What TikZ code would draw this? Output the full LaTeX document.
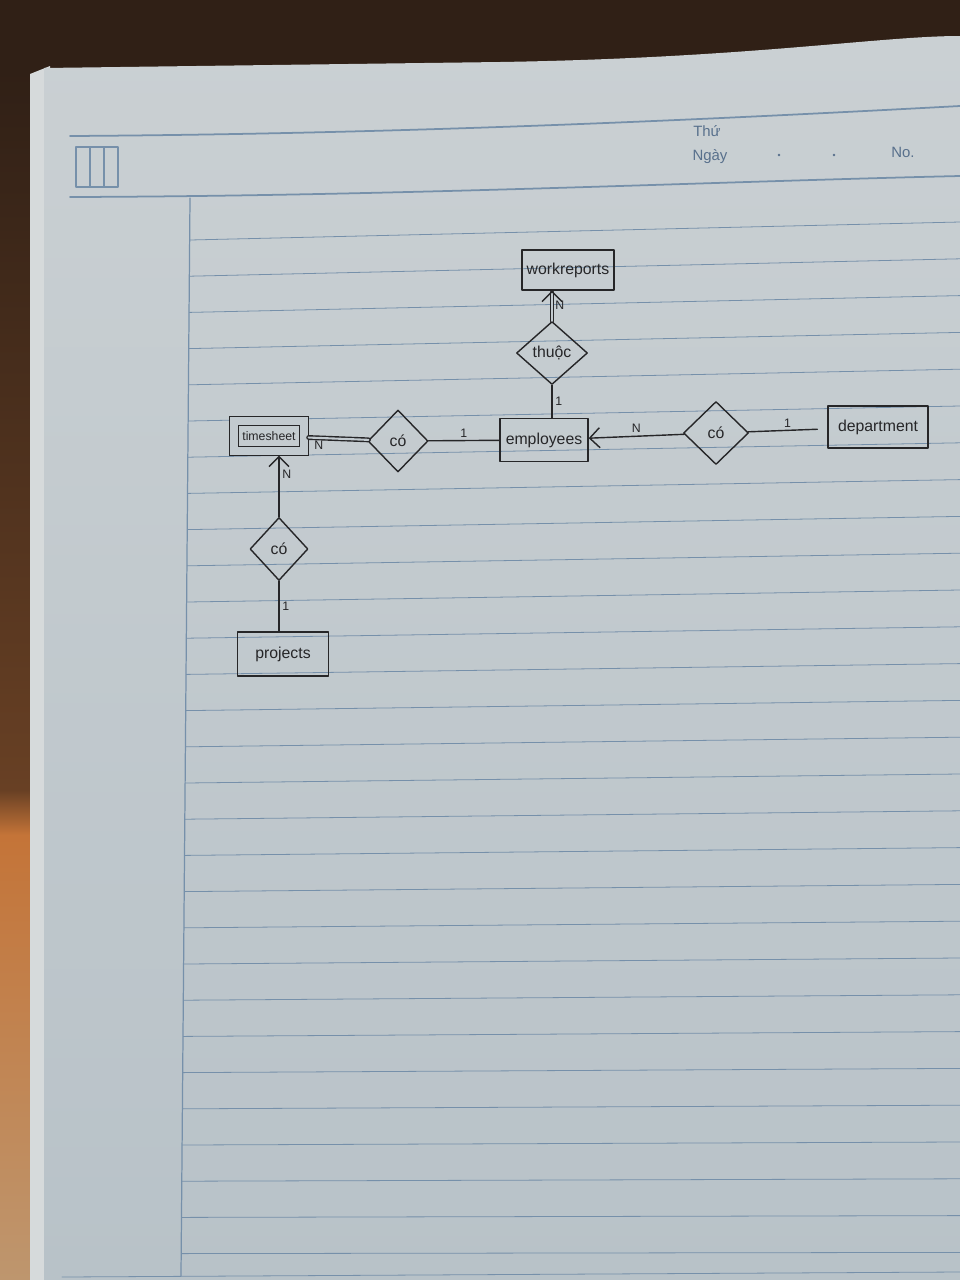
\documentclass[tikz,border=0pt]{standalone}
\usepackage{fontspec}
\setmainfont{Liberation Sans}
\usetikzlibrary{arrows.meta,shapes.geometric,positioning}
\definecolor{paperlight}{RGB}{202,208,211}
\definecolor{paperdark}{RGB}{184,194,200}
\definecolor{paper}{RGB}{194,202,207}
\definecolor{ruleblue}{RGB}{118,144,170}
\definecolor{printblue}{RGB}{88,112,140}
\definecolor{ink}{RGB}{38,38,40}
\definecolor{wooddark}{RGB}{48,32,22}
\definecolor{woodmid}{RGB}{104,64,36}
\definecolor{woodorange}{RGB}{196,116,56}
\definecolor{woodlight}{RGB}{190,150,110}
\definecolor{pageedge}{RGB}{214,218,219}

\begin{document}
\begin{tikzpicture}[x=0.2mm,y=-0.2mm,line cap=round,line join=round,
  entity/.style={draw=ink,line width=0.8pt,rectangle,inner sep=0pt,text=ink,font=\fontsize{9}{10}\selectfont},
  weak/.style={entity,line join=miter,double=paper,double distance=1.5mm,font=\fontsize{7}{8}\selectfont},
  rel/.style={draw=ink,line width=0.8pt,diamond,inner sep=0pt,text=ink,font=\fontsize{9}{10}\selectfont,minimum width=13mm,minimum height=12.6mm},
  link/.style={draw=ink,line width=0.8pt},
  card/.style={text=ink,inner sep=1.5pt,font=\fontsize{7}{8}\selectfont},
  ruling/.style={draw=ruleblue,line width=0.45pt},
  print/.style={text=printblue,font=\fontsize{8.5}{10}\selectfont}]
  \useasboundingbox (0,0) rectangle (960,1280);
  % desk and page
  \fill[wooddark] (0,0) rectangle (960,1280);
  \shade[top color=wooddark,bottom color=woodmid] (0,70) rectangle (36,790);
  \shade[top color=woodmid,bottom color=woodorange] (0,790) rectangle (36,835);
  \shade[top color=woodorange,bottom color=woodlight] (0,835) rectangle (36,1280);
  \fill[pageedge] (30,74) -- (50,66) -- (50,1280) -- (30,1280) -- cycle;
  \shade[top color=paperlight,bottom color=paperdark]
    (44,68) -- (500,62) .. controls (750,58) and (880,36) .. (960,36) -- (960,1280) -- (44,1280) -- cycle;
  % header
  \draw[ruleblue,line width=1pt] (70,136) .. controls (400,134) and (700,120) .. (960,106);
  \draw[ruleblue,line width=1pt] (70,197) .. controls (400,196) and (700,182) .. (960,176);
  \draw[ruleblue,line width=0.6pt] (76,147) rectangle (118,187);
  \draw[ruleblue,line width=0.6pt] (90,147) -- (90,187) (104,147) -- (104,187);
  \node[print] (thu) at (707,131) {Thứ};
  \node[print] (ngay) at (710,157) {Ngày};
  \node[print] (no) at (903,152) {No.};
  \fill[printblue] (779,155) circle (1.3) (834,155) circle (1.3);
  % ruled lines
  \draw[ruleblue,line width=0.7pt] (190,198) -- (181,1276);
  \foreach \k in {0,...,28}
    \draw[ruling] ({190-\k*0.3},{240+36.2*\k}) -- (960,{222+36.2*\k+\k*0.6});
  \draw[ruling] (62,1277) -- (960,1272);

  % entities and relationships
  \node[entity,minimum width=18.4mm,minimum height=8mm] (workreports) at (568,270) {workreports};
  \node[rel,minimum width=14.2mm] (thuoc) at (552,353) {thuộc};
  \node[entity,minimum width=17.6mm,minimum height=8.6mm] (employees) at (544,440) {employees};
  \node[rel] (coDept) at (716,433) {có};
  \node[entity,minimum width=20mm,minimum height=8.4mm] (department) at (878,427) {department};
  \node[rel,minimum width=12mm,minimum height=12.4mm] (coTime) at (398,441) {có};
  \node[weak,minimum width=14mm,minimum height=6mm] (timesheet) at (269,436) {timesheet};
  \node[rel,minimum width=11.6mm] (coProj) at (279,549) {có};
  \node[entity,minimum width=18.2mm,minimum height=8.8mm] (projects) at (283,654) {projects};

  % connectors
  \draw[link,double=paper,double distance=1.2pt,-{Straight Barb[length=2mm,line width=0.8pt]}]
    (thuoc.north) -- node[card,right] {N} (thuoc.north |- workreports.south);
  \draw[link] (thuoc.south) -- node[card,right] {1} (thuoc.south |- employees.north);
  \draw[link,-{Straight Barb[length=2mm]}] (coDept) -- node[card,above] {N} (employees);
  \draw[link,shorten >=2mm] (coDept) -- node[card,above] {1} (department);
  \draw[link] (coTime) -- node[card,above] {1} (employees);
  \draw[link,double=paper,double distance=1.2pt,shorten <=0.8mm] (timesheet) -- node[card,below right,pos=0.1] {N} (coTime);
  \draw[link,-{Straight Barb[length=2mm]},shorten >=0.8mm]
    (coProj.north) -- node[card,right,pos=0.65] {N} (coProj.north |- timesheet.south);
  \draw[link] (coProj.south) -- node[card,right] {1} (coProj.south |- projects.north);
\end{tikzpicture}
\end{document}
